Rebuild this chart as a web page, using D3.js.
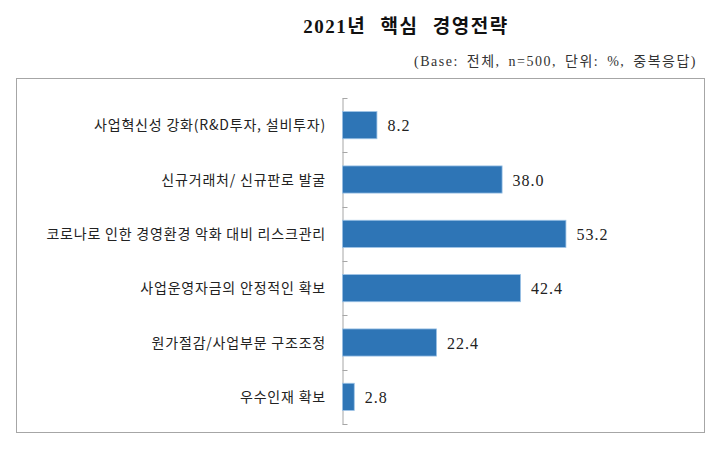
<!DOCTYPE html>
<html>
<head>
<meta charset="utf-8">
<script src="https://cdn.jsdelivr.net/npm/d3@7"></script>
<style>
  body { margin: 0; background: #fff; }
</style>
</head>
<body>
<div id="chart"></div>
<script>
// data
const categories = [
  "사업혁신성 강화(R&D투자, 설비투자)",
  "신규거래처/ 신규판로 발굴",
  "코로나로 인한 경영환경 악화 대비 리스크관리",
  "사업운영자금의 안정적인 확보",
  "원가절감/사업부문 구조조정",
  "우수인재 확보"
];
const values = [8.2, 38.0, 53.2, 42.4, 22.4, 2.8];
const title = "2021년 핵심 경영전략";
const subtitle = "(Base: 전체, n=500, 단위: %, 중복응답)";

const W = 721, H = 451;
const axisX = 342, plotTop = 98, plotBottom = 424;

const svg = d3.select("#chart").append("svg")
  .attr("width", W).attr("height", H);

// title + note
svg.append("text")
  .attr("x", 406).attr("y", 33)
  .attr("text-anchor", "middle")
  .style("font-family", "'Liberation Serif', 'Noto Sans CJK KR', serif")
  .style("font-size", "19px")
  .style("font-weight", "bold")
  .style("letter-spacing", "1.5px")
  .style("word-spacing", "8px")
  .style("fill", "#111")
  .text(title);

svg.append("text")
  .attr("x", 697).attr("y", 66)
  .attr("text-anchor", "end")
  .style("font-family", "'Liberation Serif', 'Noto Sans CJK KR', serif")
  .style("font-size", "14px")
  .style("letter-spacing", "1.5px")
  .style("word-spacing", "3px")
  .style("fill", "#333")
  .text(subtitle);

// frame
svg.append("rect")
  .attr("x", 16.5).attr("y", 78.5)
  .attr("width", 688).attr("height", 354)
  .style("fill", "none")
  .style("stroke", "#a6a6a6")
  .style("stroke-width", 1);

const x = d3.scaleLinear().domain([0, 60]).range([axisX, axisX + 252]);
const y = d3.scaleBand().domain(categories).range([plotTop, plotBottom]).paddingInner(0.5).paddingOuter(0.25);

// axis line + ticks between categories
const yAxis = d3.axisRight(y).tickSize(0).tickFormat("");
const g = svg.append("g").attr("transform", `translate(${axisX + 0.5},0)`).call(yAxis);
g.select(".domain").attr("stroke", "#a6a6a6");
const step = (plotBottom - plotTop) / categories.length;
g.selectAll(".sep")
  .data(d3.range(categories.length + 1))
  .enter().append("line")
  .attr("x1", 0).attr("x2", 5)
  .attr("y1", i => Math.round(plotTop + i * step) + 0.5)
  .attr("y2", i => Math.round(plotTop + i * step) + 0.5)
  .attr("stroke", "#a6a6a6");

// bars
svg.selectAll(".bar")
  .data(values)
  .enter().append("rect")
  .attr("class", "bar")
  .attr("x", axisX + 0.5)
  .attr("y", (d, i) => y(categories[i]))
  .attr("width", d => x(d) - axisX)
  .attr("height", y.bandwidth())
  .style("fill", "#2e75b6")
  .style("stroke", "#9dc3e6")
  .style("stroke-width", 0.8);

// category labels
svg.selectAll(".cat")
  .data(categories)
  .enter().append("text")
  .attr("x", 326)
  .attr("y", d => y(d) + y.bandwidth() / 2 + 5)
  .attr("text-anchor", "end")
  .style("font-family", "'Noto Sans CJK KR', sans-serif")
  .style("font-size", "14px")
  .style("letter-spacing", "0.8px")
  .style("fill", "#222")
  .text(d => d);

// value labels
svg.selectAll(".val")
  .data(values)
  .enter().append("text")
  .attr("x", d => x(d) + 11)
  .attr("y", (d, i) => y(categories[i]) + y.bandwidth() / 2 + 6)
  .style("font-family", "'Liberation Serif', serif")
  .style("font-size", "16px")
  .style("letter-spacing", "1px")
  .style("fill", "#222")
  .text(d => d.toFixed(1));
</script>
</body>
</html>
